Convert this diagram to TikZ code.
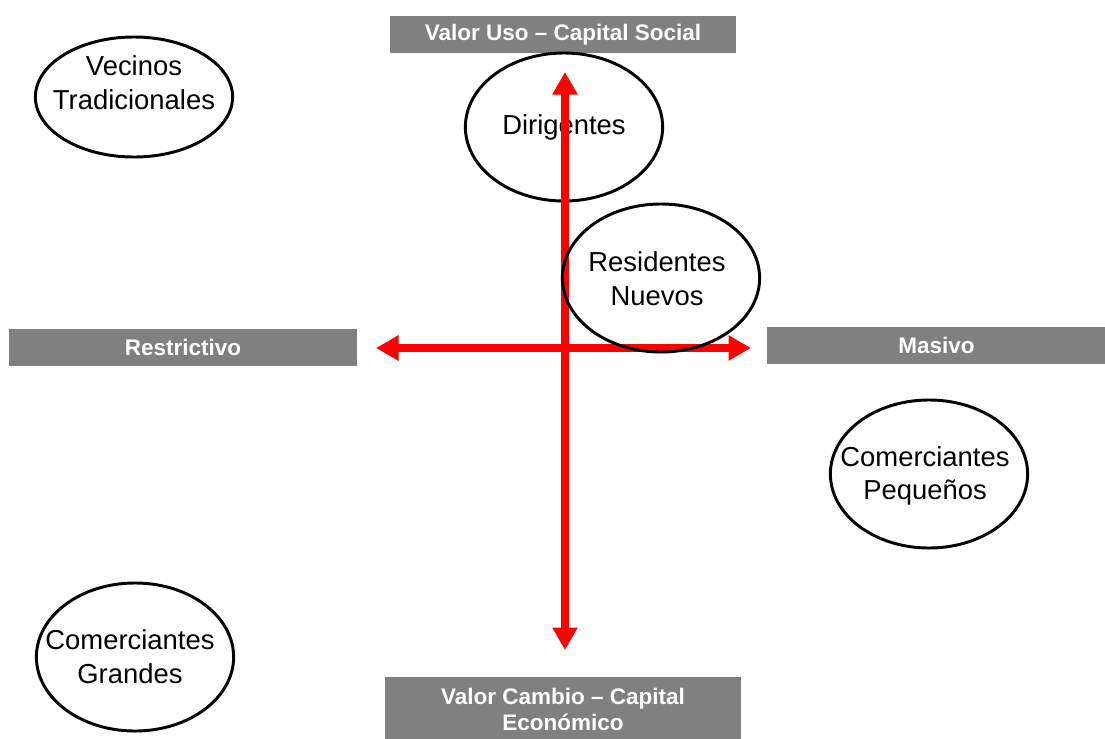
\documentclass[tikz,border=0pt]{standalone}
\usepackage{fontspec}
\setmainfont{Liberation Sans}
\usetikzlibrary{shapes.geometric,arrows.meta}

\tikzset{
    actor/.style={ellipse, draw, line width=2.1pt, inner sep=0pt,
        minimum width=4.93cm, minimum height=3.7cm},
    actortext/.style={align=center, font=\fontsize{19.5}{24}\selectfont},
    axislabel/.style={fill=gray, text=white, inner sep=0pt, align=center,
        font=\fontsize{16}{18.5}\selectfont\bfseries},
    axis/.style={red, line width=6pt,
        {Triangle[length=16pt,width=17pt]}-{Triangle[length=16pt,width=17pt]}}
}

\begin{document}
\begin{tikzpicture}[x=0.025cm, y=-0.025cm]
        \useasboundingbox (0, 0) rectangle (1105, 738);
        % ejes
        \node[axislabel, minimum width=8.65cm, minimum height=0.925cm] (uso) at (563, 34.5) {Valor Uso -- Capital Social};
        \node[axislabel, minimum width=8.7cm, minimum height=0.925cm] (restr) at (183, 347.5) {Restrictivo};
        \node[axislabel, minimum width=8.45cm, minimum height=0.925cm] (masivo) at (936.5, 345.5) {Masivo};
        \node[axislabel, minimum width=8.9cm, minimum height=1.6cm] (cambio) at (563, 709) {Valor Cambio -- Capital\\Económico};
        \node[actor] (dirig) at (564, 127) {};
        \node[actortext] (dirigtxt) at (564, 127) {Dirigentes};
        \coordinate (arriba) at (565, 72);
        \coordinate (abajo) at (565, 650);
        \coordinate (izq) at (376, 348);
        \coordinate (der) at (751, 348);
        \draw[axis] (abajo) -- (arriba);
        \draw[axis] (izq) -- (der);
        % actores
        \node[actor, minimum height=3cm] (vecinos) at (134, 97) {};
        \node[actortext] (vecinostxt) at (134, 83) {Vecinos\\Tradicionales};
        \node[actor] (resid) at (661, 278) {};
        \node[actortext] (residtxt) at (657, 279) {Residentes\\Nuevos};
        \node[actor] (pequenos) at (929, 474) {};
        \node[actortext] (pequenostxt) at (925, 476) {Comerciantes\\Pequeños};
        \node[actor] (grandes) at (135, 657) {};
        \node[actortext] (grandestxt) at (130, 657) {Comerciantes\\Grandes};
    \end{tikzpicture}
\end{document}
